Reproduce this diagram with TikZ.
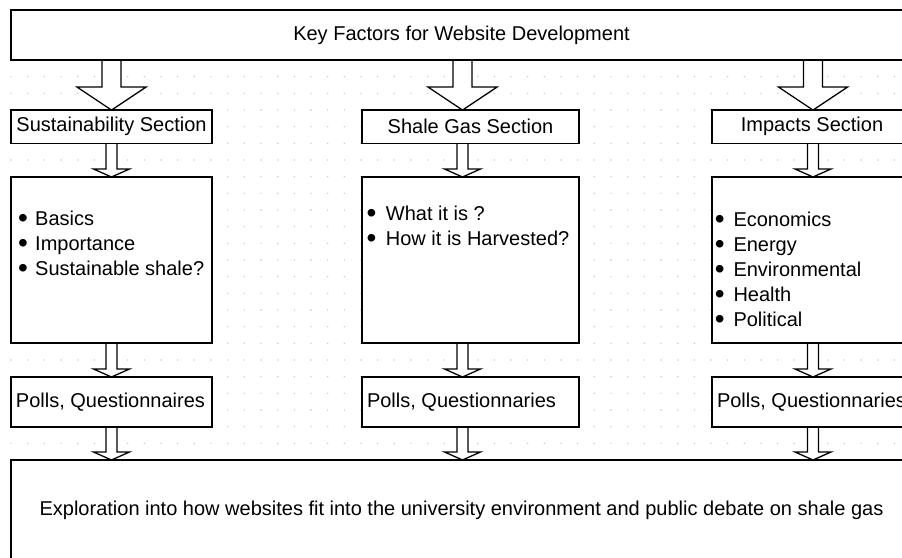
\documentclass[tikz,border=0pt]{standalone}
\usepackage{fontspec}
\setmainfont{Liberation Sans}
\usetikzlibrary{calc,backgrounds}

\tikzset{
  txt/.style={font=\fontsize{20}{25}\selectfont},
  boxnode/.style={txt, draw=black, fill=white, line width=1.3pt,
    inner sep=0pt, outer sep=0pt},
  listline/.style={txt, inner sep=0pt, anchor=base west},
  arrowbody/.style={draw=black, fill=white, line width=1.3pt, line join=miter},
  griddot/.style={fill=gray!42},
}

% bullet mark for the lists
\newcommand\bmark{\raisebox{-2.6pt}[0pt][0pt]{\scalebox{1.4}{•}}}

% hollow block arrow: start, end, half shaft width, half head width, head length
\newcommand\blockarrow[5]{%
  \draw[arrowbody] let \p1=(#1), \p2=(#2) in
    (\x1-#3,\y1) -- (\x1-#3,\y2+#5) -- (\x1-#4,\y2+#5) -- (\x1,\y2)
    -- (\x1+#4,\y2+#5) -- (\x1+#3,\y2+#5) -- (\x1+#3,\y1);}

\begin{document}
\begin{tikzpicture}[x=1pt,y=-1pt]
\useasboundingbox (0,0) rectangle (902,557);

% dotted background grid
\begin{scope}[on background layer]
  \clip (0,0) rectangle (902,557);
  \foreach \i in {0,...,54}
    \foreach \j in {0,...,33}
      \fill[griddot] (11+\i*16.667,10+\j*16.667) circle[radius=0.8pt];
\end{scope}

\clip (0,0) rectangle (902,557);

% column axes for the arrows
\coordinate (axL) at (111.5,0);
\coordinate (axM) at (462.5,0);
\coordinate (axR) at (813,0);

% header
\node[boxnode, minimum width=901pt, minimum height=50pt] (top) at (461.5,35)
  {Key Factors for Website Development};

% section titles
\node[boxnode, minimum width=201pt, minimum height=33.3pt] (secL) at (111.5,126.7)
  {Sustainability Section};
\node[boxnode, minimum width=217pt, minimum height=33.3pt] (secM) at (470.5,126.7)
  {Shale Gas Section};
\node[boxnode, minimum width=200pt, minimum height=33.3pt] (secR) at (812,126.7)
  {Impacts Section};

% content boxes
\node[boxnode, minimum width=201pt, minimum height=166pt] (conL) at (111.5,260) {};
\node[boxnode, minimum width=217pt, minimum height=166pt] (conM) at (470.5,260) {};
\node[boxnode, minimum width=200pt, minimum height=166pt] (conR) at (812,260) {};

\foreach \t [count=\i from 0] in {Basics,Importance,Sustainable shale?}
  \node[listline] (itL\i) at (17.8,225+25*\i) {\makebox[17.2pt][l]{\bmark}\t};
\foreach \t [count=\i from 0] in {What it is ?,How it is Harvested?}
  \node[listline] (itM\i) at (366.3,220+25*\i) {\makebox[19.4pt][l]{\bmark}\t};
\foreach \t [count=\i from 0] in {Economics,Energy,Environmental,Health,Political}
  \node[listline] (itR\i) at (714.6,226+25*\i) {\makebox[18.7pt][l]{\bmark}\t};

% feedback boxes
\node[boxnode, minimum width=201pt, minimum height=50pt] (polL) at (111.5,402)
  {\makebox[191pt][l]{Polls, Questionnaires}};
\node[boxnode, minimum width=217pt, minimum height=50pt] (polM) at (470.5,402)
  {\makebox[207pt][l]{Polls, Questionnaries}};
\node[boxnode, minimum width=200pt, minimum height=50pt] (polR) at (812,402)
  {\makebox[190pt][l]{Polls, Questionnaries}};

% outcome
\node[boxnode, minimum width=901pt, minimum height=100pt] (bot) at (461.5,510)
  {Exploration into how websites fit into the university environment and public debate on shale gas};

% arrows
\begin{scope}[on background layer]
  \clip (0,0) rectangle (902,557);
  \blockarrow{top.south -| axL}{secL.north -| axL}{9.5pt}{34.5pt}{23pt}
  \blockarrow{top.south -| axM}{secM.north -| axM}{9.5pt}{34.5pt}{23pt}
  \blockarrow{top.south -| axR}{secR.north -| axR}{9.5pt}{34.5pt}{23pt}
  \blockarrow{secL.south -| axL}{conL.north -| axL}{5.5pt}{18pt}{8pt}
  \blockarrow{secM.south -| axM}{conM.north -| axM}{5.5pt}{18pt}{8pt}
  \blockarrow{secR.south -| axR}{conR.north -| axR}{5.5pt}{18pt}{8pt}
  \blockarrow{conL.south -| axL}{polL.north -| axL}{5.5pt}{18pt}{8pt}
  \blockarrow{conM.south -| axM}{polM.north -| axM}{5.5pt}{18pt}{8pt}
  \blockarrow{conR.south -| axR}{polR.north -| axR}{5.5pt}{18pt}{8pt}
  \blockarrow{polL.south -| axL}{bot.north -| axL}{5.5pt}{18pt}{8pt}
  \blockarrow{polM.south -| axM}{bot.north -| axM}{5.5pt}{18pt}{8pt}
  \blockarrow{polR.south -| axR}{bot.north -| axR}{5.5pt}{18pt}{8pt}
\end{scope}
\end{tikzpicture}
\end{document}
